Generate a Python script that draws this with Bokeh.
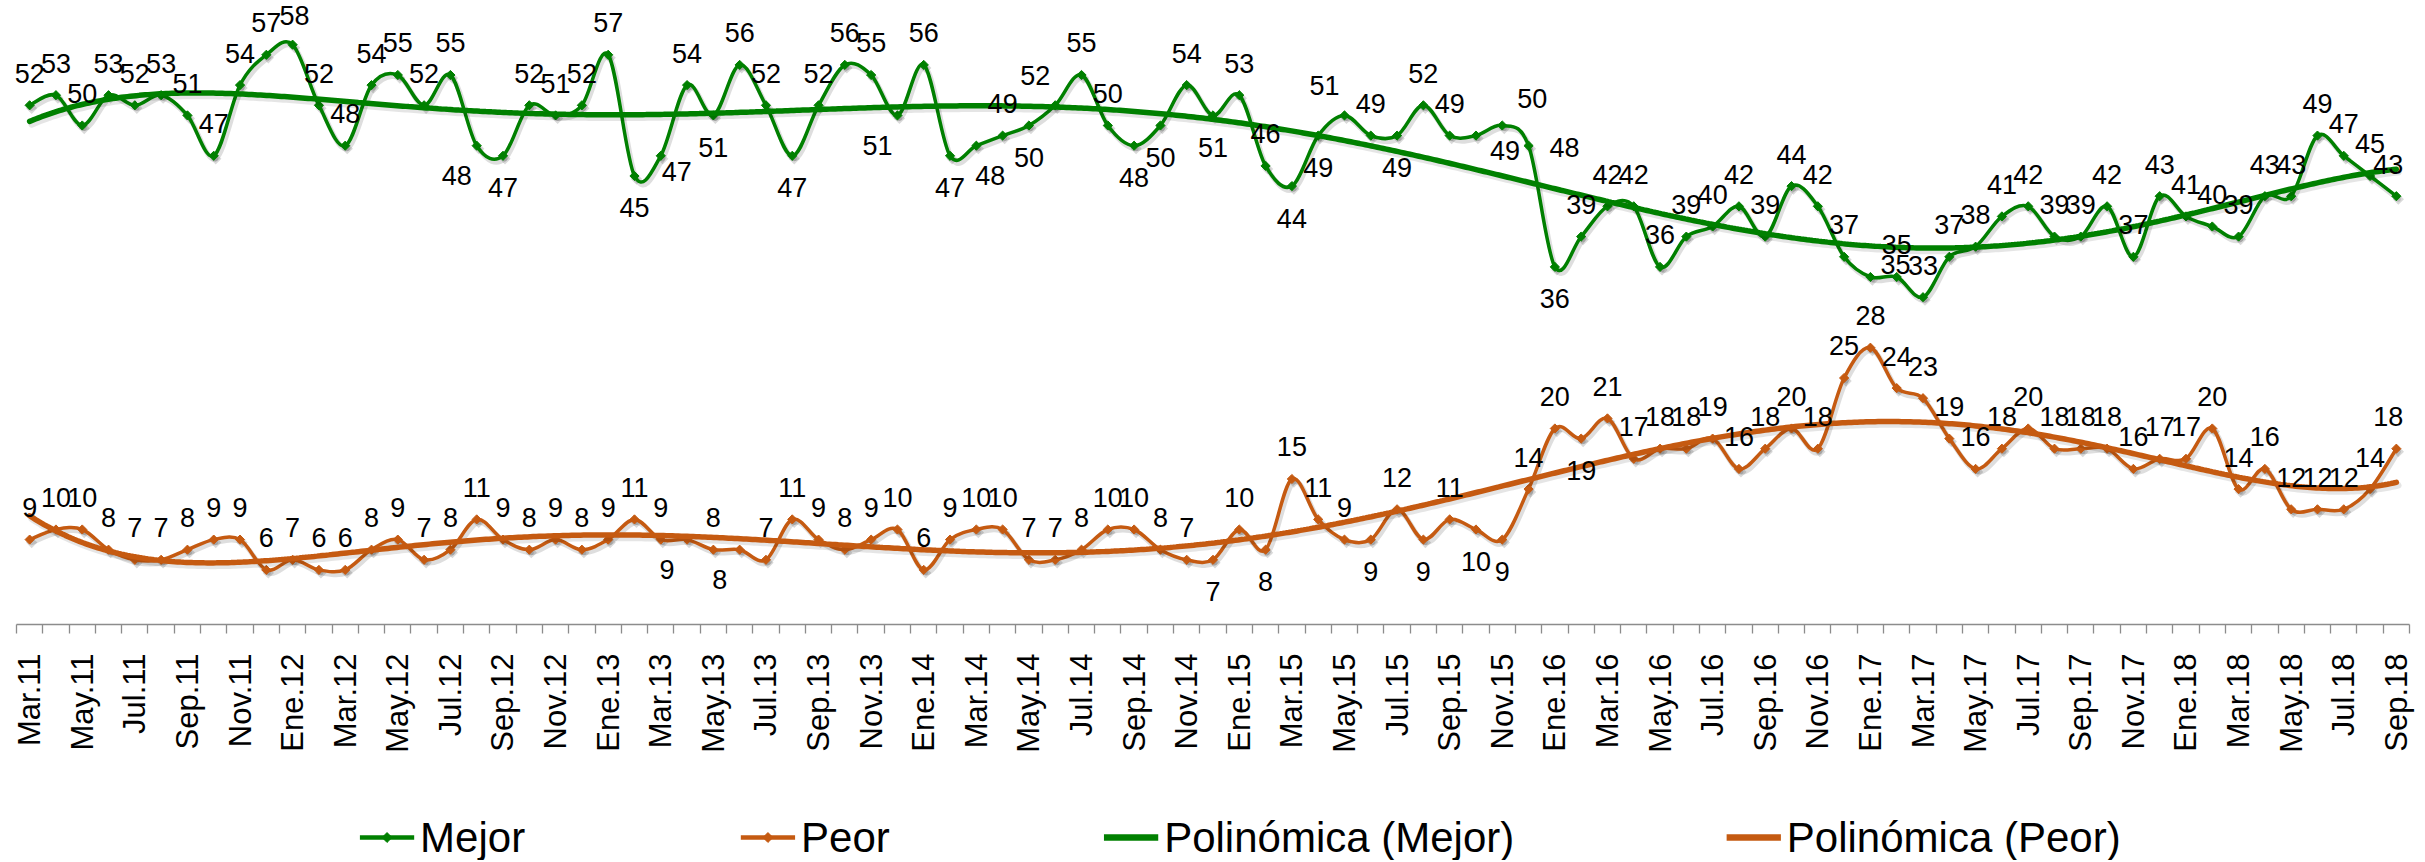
import math
import numpy as np
from bokeh.plotting import figure
from bokeh.layouts import column
from bokeh.models import ColumnDataSource, Range1d, FixedTicker
from bokeh.core.properties import value
from bokeh.embed import file_html
from bokeh.resources import INLINE

# ---------------- data ----------------
MONTH_ABBR = ["Ene", "Feb", "Mar", "Abr", "May", "Jun", "Jul", "Ago", "Sep", "Oct", "Nov", "Dic"]
months = [f"{MONTH_ABBR[(2 + k) % 12]}.{11 + (2 + k) // 12:02d}" for k in range(91)]  # Mar.11 .. Sep.18

mejor = [52, 53, 50, 53, 52, 53, 51, 47, 54, 57,
         58, 52, 48, 54, 55, 52, 55, 48, 47, 52,
         51, 52, 57, 45, 47, 54, 51, 56, 52, 47,
         52, 56, 55, 51, 56, 47, 48, 49, 50, 52,
         55, 50, 48, 50, 54, 51, 53, 46, 44, 49,
         51, 49, 49, 52, 49, 49, 50, 48, 36, 39,
         42, 42, 36, 39, 40, 42, 39, 44, 42, 37,
         35, 35, 33, 37, 38, 41, 42, 39, 39, 42,
         37, 43, 41, 40, 39, 43, 43, 49, 47, 45, 43]

peor = [9, 10, 10, 8, 7, 7, 8, 9, 9, 6,
        7, 6, 6, 8, 9, 7, 8, 11, 9, 8,
        9, 8, 9, 11, 9, 9, 8, 8, 7, 11,
        9, 8, 9, 10, 6, 9, 10, 10, 7, 7,
        8, 10, 10, 8, 7, 7, 10, 8, 15, 11,
        9, 9, 12, 9, 11, 10, 9, 14, 20, 19,
        21, 17, 18, 18, 19, 16, 18, 20, 18, 25,
        28, 24, 23, 19, 16, 18, 20, 18, 18, 18,
        16, 17, 17, 20, 14, 16, 12, 12, 12, 14, 18]

tick_labels = months[::2]
legend_labels = ["Mejor", "Peor", "Polinómica (Mejor)", "Polinómica (Peor)"]

# ---------------- label placement (style) ----------------
LBL_MEJOR = ("aaaaaaaaaa" "haaaaaaBba" "aaabdabaab" "aaaBabcabA" "aabbabaabb"
             "Aabaaferba" "aaaaaaaaaa" "kaaaaaaaaa" "aaaaaaaaaal")
LBL_PEOR = ("aaaaaaaaaa" "aaaaaaaaaa" "aaaaaBaBaa" "aaaaaaaaaa" "aaaaababaa"
            "abababbaab" "aaaaaaaaaa" "aaaaaaaaaa" "aaaaaaaaaal")
OFFS = {"a": (0, -32), "b": (0, 32), "B": (-20, 30), "A": (-20, -30), "c": (14, 30),
        "d": (16, 16), "f": (29, 15), "e": (30, -27), "r": (36, 2), "h": (2, -29),
        "k": (25, -12), "l": (-8, -32)}

GREEN = "#008000"
ORANGE = "#C55A11"
FONT = "Liberation Sans"
SH_DX, SH_DY = 2.0 / 26.3, -3.0 / 10.1  # shadow offset (2px right, 3px down) in data units
W = 2425

x = list(range(len(months)))

p = figure(width=W, height=790, x_range=Range1d(-0.5, 90.5), y_range=Range1d(0.594, 62.376),
           output_backend="svg", toolbar_location=None, y_axis_location=None,
           min_border_left=16, min_border_right=16, min_border_top=0, min_border_bottom=166,
           outline_line_color=None, background_fill_color="white", border_fill_color="white")
p.grid.visible = False


def smooth_source(vals, ox=0.0, oy=0.0):
    n = len(vals)
    xs = [float(i) + ox for i in range(n)]
    ys = [float(v) + oy for v in vals]
    d = dict(x0=[], y0=[], x1=[], y1=[], cx0=[], cy0=[], cx1=[], cy1=[])
    for i in range(n - 1):
        im1 = max(i - 1, 0)
        ip2 = min(i + 2, n - 1)
        d["x0"].append(xs[i]); d["y0"].append(ys[i])
        d["x1"].append(xs[i + 1]); d["y1"].append(ys[i + 1])
        d["cx0"].append(xs[i] + (xs[i + 1] - xs[im1]) / 6.0)
        d["cy0"].append(ys[i] + (ys[i + 1] - ys[im1]) / 6.0)
        d["cx1"].append(xs[i + 1] - (xs[ip2] - xs[i]) / 6.0)
        d["cy1"].append(ys[i + 1] - (ys[ip2] - ys[i]) / 6.0)
    return ColumnDataSource(d)


def trend_source(vals, deg=6, ox=0.0, oy=0.0):
    xs = np.arange(1, len(vals) + 1, dtype=float)
    coef = np.polyfit(xs, np.asarray(vals, dtype=float), deg)
    t = np.linspace(1, len(vals), 800)
    return ColumnDataSource(dict(x=t - 1 + ox, y=np.polyval(coef, t) + oy))


def label_source(vals, codes):
    dx = [OFFS[c][0] for c in codes]
    dy = [OFFS[c][1] for c in codes]
    return ColumnDataSource(dict(x=x, y=vals, t=[str(v) for v in vals], dx=dx, dy=dy))


BEZ = dict(x0="x0", y0="y0", x1="x1", y1="y1", cx0="cx0", cy0="cy0", cx1="cx1", cy1="cy1")
series = (("Mejor", mejor, GREEN), ("Peor", peor, ORANGE))

# soft shadows
for name, vals, col in series:
    p.bezier(**BEZ, source=smooth_source(vals, SH_DX, SH_DY), line_color="black",
             line_alpha=0.13, line_width=5, line_cap="round")
    p.scatter(x=[i + SH_DX for i in x], y=[v + SH_DY for v in vals], marker="square",
              angle=math.pi / 4, size=8, fill_color="black", fill_alpha=0.15, line_color=None)

for name, vals, col in series:
    p.bezier(**BEZ, source=smooth_source(vals), line_color=col, line_width=3.5, line_cap="round")
    p.scatter(x=x, y=vals, marker="square", angle=math.pi / 4, size=6.5,
              fill_color=col, line_color=col)

for name, vals, col in series:
    p.line(x="x", y="y", source=trend_source(vals, ox=SH_DX, oy=SH_DY), line_color="black",
           line_alpha=0.10, line_width=6.5, line_cap="round")
    p.line(x="x", y="y", source=trend_source(vals), line_color=col, line_width=5.5, line_cap="round")

for vals, codes in ((mejor, LBL_MEJOR), (peor, LBL_PEOR)):
    p.text(x="x", y="y", text="t", x_offset="dx", y_offset="dy", source=label_source(vals, codes),
           text_align="center", text_baseline="middle", text_font=value(FONT),
           text_font_size="27px", text_color="black", level="overlay")

ax = p.xaxis[0]
ax.ticker = FixedTicker(ticks=list(range(0, 91, 2)), minor_ticks=[i - 0.5 for i in range(92)])
ax.major_label_overrides = {i: lbl for i, lbl in zip(range(0, 91, 2), tick_labels)}
ax.axis_line_color = "#8c8c8c"
ax.axis_line_width = 1.3
ax.major_tick_line_color = None
ax.major_tick_out = 0
ax.major_tick_in = 0
ax.minor_tick_line_color = "#8c8c8c"
ax.minor_tick_line_width = 1.3
ax.minor_tick_out = 9
ax.minor_tick_in = 0
ax.major_label_orientation = math.pi / 2
ax.major_label_standoff = 20
ax.major_label_text_font = FONT
ax.major_label_text_font_size = "31px"
ax.major_label_text_color = "black"

# ---------------- legend strip (pixel-unit figure) ----------------
LEG_H = 70
q = figure(width=W, height=LEG_H, x_range=Range1d(0, W), y_range=Range1d(LEG_H, 0),
           output_backend="svg", toolbar_location=None, x_axis_location=None, y_axis_location=None,
           min_border_left=0, min_border_right=0, min_border_top=0, min_border_bottom=0,
           outline_line_color=None, background_fill_color="white", border_fill_color="white")
q.grid.visible = False

LEG_Y = 47
LEG_X0 = [348, 734, 1102, 1733]
LEG_W = 55
leg_cols = [GREEN, ORANGE, GREEN, ORANGE]
leg_widths = [3.5, 3.5, 5.5, 5.5]
for i, (lab, col, lw) in enumerate(zip(legend_labels, leg_cols, leg_widths)):
    xa = LEG_X0[i]
    q.line(x=[xa, xa + LEG_W], y=[LEG_Y, LEG_Y], line_color=col, line_width=lw + 1)
    if i < 2:
        q.scatter(x=[xa + LEG_W / 2], y=[LEG_Y], marker="square", angle=math.pi / 4, size=7,
                  fill_color=col, line_color=col)
    q.text(x=[xa + LEG_W + 6], y=[LEG_Y], text=[lab], text_align="left", text_baseline="middle",
           text_font=value(FONT), text_font_size="42px", text_color="black")

layout = column(p, q, spacing=0)
open("out.html", "w").write(file_html(layout, INLINE))
